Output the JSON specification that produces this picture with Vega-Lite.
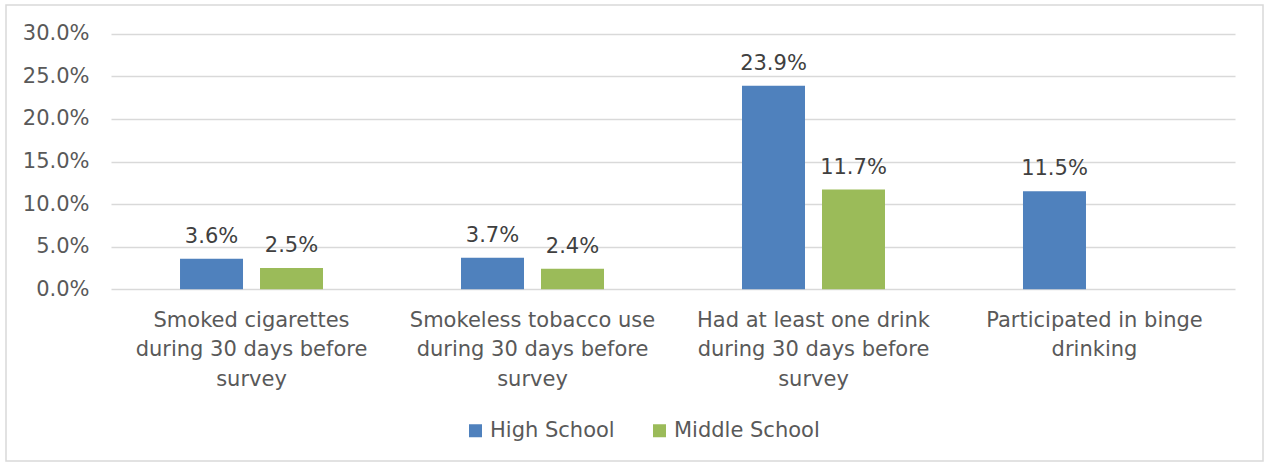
{
  "$schema": "https://vega.github.io/schema/vega-lite/v6.json",
  "width": 1257,
  "height": 456,
  "autosize": {"type": "none"},
  "padding": {"left": 6, "top": 5, "right": 2, "bottom": 4},
  "background": "white",
  "config": {
    "font": "DejaVu Sans",
    "view": {"stroke": "#d9d9d9", "strokeWidth": 1.5},
    "axis": {
      "labelFont": "DejaVu Sans",
      "labelFontSize": 21,
      "labelColor": "#595959",
      "ticks": false,
      "domain": false,
      "title": null
    }
  },
  "data": {
    "values": [
      {"measure": "Smoked cigarettes\nduring 30 days before\nsurvey", "school": "High School", "rate": 0.036},
      {"measure": "Smoked cigarettes\nduring 30 days before\nsurvey", "school": "Middle School", "rate": 0.025},
      {"measure": "Smokeless tobacco use\nduring 30 days before\nsurvey", "school": "High School", "rate": 0.037},
      {"measure": "Smokeless tobacco use\nduring 30 days before\nsurvey", "school": "Middle School", "rate": 0.024},
      {"measure": "Had at least one drink\nduring 30 days before\nsurvey", "school": "High School", "rate": 0.239},
      {"measure": "Had at least one drink\nduring 30 days before\nsurvey", "school": "Middle School", "rate": 0.117},
      {"measure": "Participated in binge\ndrinking", "school": "High School", "rate": 0.115}
    ]
  },
  "encoding": {
    "x": {
      "field": "measure",
      "type": "nominal",
      "sort": null,
      "scale": {"range": [105, 1229], "paddingInner": 0.4911, "paddingOuter": 0.2456},
      "axis": {
        "orient": "bottom",
        "offset": -171.7,
        "labelAngle": 0,
        "labelPadding": 20,
        "labelLimit": 400,
        "labelLineHeight": 29.7,
        "labelExpr": "split(datum.label, '\\n')",
        "grid": false
      }
    },
    "xOffset": {
      "field": "school",
      "type": "nominal",
      "sort": ["High School", "Middle School"],
      "scale": {"paddingInner": 0.2125, "paddingOuter": 0}
    },
    "y": {
      "field": "rate",
      "type": "quantitative",
      "scale": {"domain": [0, 0.3], "range": [284.3, 28.7], "nice": false},
      "axis": {
        "orient": "left",
        "offset": -95,
        "labelPadding": 12,
        "format": ".1%",
        "values": [0, 0.05, 0.1, 0.15, 0.2, 0.25, 0.3],
        "grid": true,
        "gridColor": "#d9d9d9",
        "gridWidth": 1.4
      }
    }
  },
  "layer": [
    {
      "mark": {"type": "bar"},
      "encoding": {
        "color": {
          "field": "school",
          "type": "nominal",
          "sort": ["High School", "Middle School"],
          "scale": {"domain": ["High School", "Middle School"], "range": ["#4f81bd", "#9bbb59"]},
          "legend": {
            "title": null,
            "orient": "none",
            "direction": "horizontal",
            "legendX": 459,
            "legendY": 415,
            "padding": 0,
            "symbolType": "square",
            "symbolSize": 169,
            "symbolStrokeWidth": 0,
            "symbolOpacity": 1,
            "labelFont": "DejaVu Sans",
            "labelFontSize": 21,
            "labelColor": "#595959",
            "labelOffset": 4,
            "columnPadding": 34,
            "labelLimit": 300
          }
        }
      }
    },
    {
      "mark": {"type": "text", "baseline": "alphabetic", "dy": -16, "fontSize": 21, "color": "#404040", "font": "DejaVu Sans"},
      "encoding": {
        "text": {"field": "rate", "type": "quantitative", "format": ".1%"}
      }
    }
  ]
}
